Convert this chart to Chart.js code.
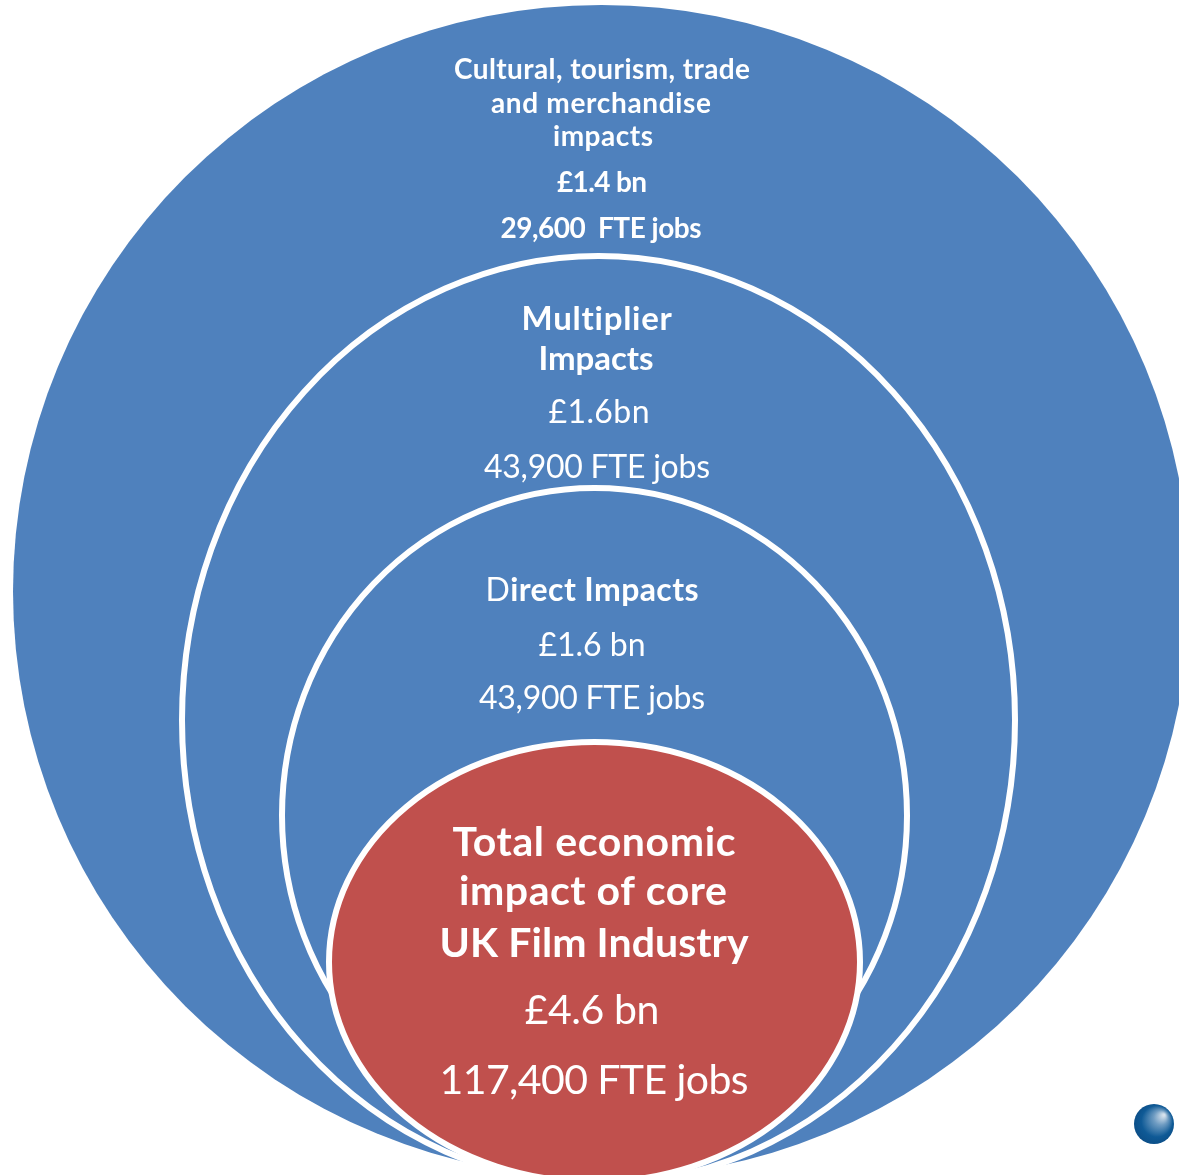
<!DOCTYPE html>
<html>
<head>
<meta charset="utf-8">
<title>Total economic impact of core UK Film Industry</title>
<script src="https://cdn.jsdelivr.net/npm/chart.js@4"></script>
<style>
  html, body { margin: 0; padding: 0; background: #fff; overflow: hidden; }
  canvas { display: block; }
</style>
</head>
<body>
<canvas id="rings" width="1179" height="1175"></canvas>
<script>
// rings, outermost first: extents on a 1179 x 1175 plane
const ringNames = ['Cultural', 'Multiplier', 'Direct', 'Total'];
const ringLeft = [13, 182, 282, 329];
const ringRight = [1190, 1015, 907, 860];
const ringTop = [5, 256, 488, 742];
const ringBottom = [1178, 1184, 1143, 1182];
const ringColors = ['#4f81bd', '#4f81bd', '#4f81bd', '#c0504d'];
const ringBorders = [null, '#ffffff', '#ffffff', '#ffffff'];

// captions, one list per ring
const culturalText = ['Cultural, tourism, trade', 'and merchandise', 'impacts', '£1.4 bn', '29,600  FTE jobs'];
const multiplierText = ['Multiplier', 'Impacts', '£1.6bn', '43,900 FTE jobs'];
const directText = ['Direct Impacts', '£1.6 bn', '43,900 FTE jobs'];
const totalText = ['Total economic', 'impact of core', 'UK Film Industry', '£4.6 bn', '117,400 FTE jobs'];

// caption layout: x centre, baseline, font size, weight, drawn width, leading regular letters
const culturalLayout = [[602, 79, 28, 700, 296], [601, 113, 28, 700, 220], [603, 146, 28, 700, 100], [602, 192, 28, 700, 90], [601, 238, 28, 700, 201]];
const multiplierLayout = [[597, 330, 33, 700, 151], [596, 370, 33, 700, 115], [599, 423, 32, 400, 101], [597, 478, 32, 400, 226]];
const directLayout = [[592, 601, 32, 700, 213, 1], [592, 656, 32, 400, 107], [592, 709, 32, 400, 226]];
const totalLayout = [[594, 856, 41, 700, 283], [593, 905, 41, 700, 268], [594, 957, 41, 700, 309], [592, 1024, 41, 400, 135], [594, 1094, 41, 400, 309]];

const captionFont = 'Lato, "Open Sans", sans-serif';

const canvas = document.getElementById('rings');
const ctx = canvas.getContext('2d');

// the little shaded ball in the bottom corner
const ballPoint = [{ x: 1154, y: 1124 }];
const ballShade = ctx.createRadialGradient(1164, 1115, 1, 1154, 1124, 22);
ballShade.addColorStop(0, '#d5e1ec');
ballShade.addColorStop(0.3, '#6f9cc2');
ballShade.addColorStop(0.7, '#0f5a96');
ballShade.addColorStop(1, '#0b4c85');

// draws an ellipse through the two corner points of each ring dataset
const ellipsePlugin = {
  id: 'ellipses',
  afterDatasetDraw(chart, args) {
    const ds = chart.data.datasets[args.index];
    if (!ds.ring) return;
    const pts = args.meta.data;
    const c = chart.ctx;
    const cx = (pts[0].x + pts[1].x) / 2;
    const cy = (pts[0].y + pts[1].y) / 2;
    c.save();
    c.beginPath();
    c.ellipse(cx, cy, Math.abs(pts[1].x - pts[0].x) / 2, Math.abs(pts[1].y - pts[0].y) / 2, 0, 0, Math.PI * 2);
    c.fillStyle = ds.ringFill;
    c.fill();
    if (ds.ringLine) {
      c.strokeStyle = ds.ringLine;
      c.lineWidth = 6;
      c.stroke();
    }
    c.restore();
  }
};

// one caption row, spaced out to its drawn width
function drawRow(c, line, left, y, size, weight, width, lead) {
  const head = line.slice(0, lead);
  const tail = line.slice(lead);
  c.letterSpacing = '0px';
  c.font = '400 ' + size + 'px ' + captionFont;
  const headWidth = c.measureText(head).width;
  c.font = weight + ' ' + size + 'px ' + captionFont;
  const tailWidth = c.measureText(tail).width;
  const spacing = (width - headWidth - tailWidth) / Math.max(line.length - 1, 1);
  c.letterSpacing = spacing.toFixed(3) + 'px';
  if (lead) {
    c.font = '400 ' + size + 'px ' + captionFont;
    c.fillText(head, left, y);
  }
  c.font = weight + ' ' + size + 'px ' + captionFont;
  c.fillText(tail, left + headWidth + spacing * lead, y);
}

// captions go on last, positioned through the same scales
const captionPlugin = {
  id: 'captions',
  afterDraw(chart) {
    const c = chart.ctx;
    const xs = chart.scales.x;
    const ys = chart.scales.y;
    const groups = [[culturalText, culturalLayout], [multiplierText, multiplierLayout], [directText, directLayout], [totalText, totalLayout]];
    c.save();
    c.fillStyle = '#ffffff';
    c.textBaseline = 'alphabetic';
    c.textAlign = 'left';
    groups.forEach(([lines, layout]) => {
      lines.forEach((line, i) => {
        const [x, y, size, weight, width, lead = 0] = layout[i];
        drawRow(c, line, xs.getPixelForValue(x - width / 2), ys.getPixelForValue(y), size, weight, width, lead);
      });
    });
    c.restore();
  }
};

const datasets = ringNames.map((name, i) => ({
  label: name,
  ring: true,
  ringFill: ringColors[i],
  ringLine: ringBorders[i],
  order: ringNames.length - i,
  pointRadius: 0,
  data: [{ x: ringLeft[i], y: ringTop[i] }, { x: ringRight[i], y: ringBottom[i] }]
}));

datasets.push({
  label: 'Ball',
  order: 0,
  pointRadius: 20,
  pointBorderWidth: 0,
  pointBackgroundColor: ballShade,
  data: ballPoint
});

new Chart(ctx, {
  type: 'scatter',
  data: { datasets },
  options: {
    responsive: false,
    animation: false,
    layout: { padding: 0, autoPadding: false },
    plugins: { legend: { display: false }, tooltip: { enabled: false } },
    scales: {
      x: { type: 'linear', display: false, min: 0, max: 1179 },
      y: { type: 'linear', display: false, min: 0, max: 1175, reverse: true }
    }
  },
  plugins: [ellipsePlugin, captionPlugin]
});
</script>
</body>
</html>
